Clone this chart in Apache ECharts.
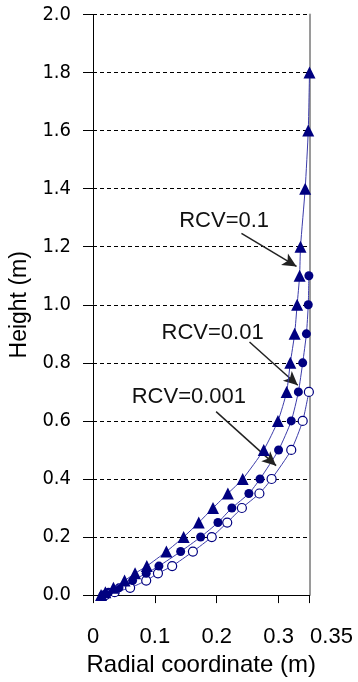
<!DOCTYPE html>
<html>
<head>
<meta charset="utf-8">
<script src="https://cdn.jsdelivr.net/npm/echarts@6/dist/echarts.min.js"></script>
<style>html,body{margin:0;padding:0;background:#fff}#c{width:358px;height:682px}</style>
</head>
<body>
<div id="c"></div>
<script>
// ---- data (radial coordinate r [m], height h [m]) ----
const hTri = [0, 0.01, 0.025, 0.05, 0.075, 0.1, 0.15, 0.2, 0.25, 0.3, 0.35, 0.4, 0.5, 0.6, 0.7, 0.8, 0.9, 1.0, 1.1, 1.2, 1.4, 1.6, 1.8];
const rTri = [0.013, 0.02, 0.033, 0.051, 0.068, 0.087, 0.1186, 0.1465, 0.171, 0.194, 0.218, 0.242, 0.276, 0.299, 0.313, 0.319, 0.326, 0.330, 0.334, 0.3355, 0.343, 0.348, 0.350];

const hFilled = [0, 0.01, 0.025, 0.05, 0.075, 0.1, 0.15, 0.2, 0.25, 0.3, 0.35, 0.4, 0.5, 0.6, 0.7, 0.8, 0.9, 1.0, 1.1];
const rFilled = [0.016, 0.025, 0.042, 0.064, 0.086, 0.1066, 0.1417, 0.174, 0.202, 0.2245, 0.252, 0.270, 0.300, 0.3205, 0.332, 0.339, 0.345, 0.348, 0.349];

const hOpen = [0, 0.01, 0.025, 0.05, 0.075, 0.1, 0.15, 0.2, 0.25, 0.3, 0.35, 0.4, 0.5, 0.6, 0.7];
const rOpen = [0.02, 0.035, 0.060, 0.086, 0.105, 0.128, 0.1615, 0.192, 0.217, 0.2407, 0.269, 0.2887, 0.3205, 0.339, 0.349];

const seriesNames = ['RCV=0.001', 'RCV=0.01', 'RCV=0.1'];
const annotTexts = ['RCV=0.1', 'RCV=0.01', 'RCV=0.001'];
const annotTextPos = [[0.212, 1.29], [0.1934, 0.904], [0.155, 0.682]];
const arrowFrom = [[0.240, 1.246], [0.253, 0.872], [0.199, 0.632]];
const arrowTo = [[0.329, 1.132], [0.331, 0.723], [0.296, 0.446]];

const xMin = 0, xMax = 0.35, xStep = 0.1;
const yMin = 0, yMax = 2.0, yStep = 0.2;

// ---- build ----
const pairs = (rs, hs) => rs.map((r, i) => [r, hs[i]]);
const NAVY = '#000080';
const LINE = '#3c3caa';
const SANS = '"Liberation Sans", Arial, sans-serif';

const chart = echarts.init(document.getElementById('c'), null, {renderer: 'canvas'});

const option = {
  animation: false,
  backgroundColor: '#fff',
  grid: {left: 93, right: 48.5, top: 14.5, bottom: 85.5, containLabel: false},
  xAxis: {
    type: 'value', min: xMin, max: xMax, interval: xStep,
    name: 'Radial coordinate (m)', nameLocation: 'middle', nameGap: 52,
    nameTextStyle: {fontSize: 24, fontFamily: SANS, color: '#000'},
    axisLine: {show: true, onZero: false, lineStyle: {color: '#000', width: 1}},
    axisTick: {show: true, length: 8, lineStyle: {color: '#000'}},
    axisLabel: {
      show: true, margin: 31, fontSize: 22, fontFamily: SANS, color: '#000',
      showMaxLabel: true, showMinLabel: true,
      formatter: v => Math.abs(v - xMax) < 1e-9 ? '{r|' + xMax + '}' : String(Number(v.toFixed(2))),
      rich: {r: {fontSize: 22, fontFamily: SANS, color: '#000', padding: [0, 0, 0, 44]}}
    },
    splitLine: {show: false}
  },
  yAxis: [{
    type: 'value', min: yMin, max: yMax, interval: yStep,
    name: 'Height (m)', nameLocation: 'middle', nameGap: 53,
    nameTextStyle: {fontSize: 23, fontFamily: SANS, color: '#000'},
    axisLine: {show: true, onZero: false, lineStyle: {color: '#000', width: 1}},
    axisTick: {show: true, length: 10, lineStyle: {color: '#000'}},
    axisLabel: {show: true, margin: 22, fontSize: 20, fontFamily: '"DejaVu Sans Condensed", "DejaVu Sans", sans-serif', color: '#000',
      formatter: v => v.toFixed(1)},
    splitLine: {show: true, lineStyle: {color: '#000', width: 1, type: [4, 3]}}
  }, {
    type: 'value', min: yMin, max: yMax, position: 'right',
    axisLine: {show: true, onZero: false, lineStyle: {color: '#9a9a9a', width: 2}},
    axisTick: {show: false}, axisLabel: {show: false}, splitLine: {show: false}
  }],
  series: [
    {
      name: seriesNames[0], type: 'line', smooth: 0.2,
      data: pairs(rOpen, hOpen),
      symbol: 'circle', symbolSize: 9,
      itemStyle: {color: '#fff', borderColor: NAVY, borderWidth: 1.2},
      lineStyle: {color: LINE, width: 1}, z: 3
    },
    {
      name: seriesNames[1], type: 'line', smooth: 0.2,
      data: pairs(rFilled, hFilled),
      symbol: 'circle', symbolSize: 9,
      itemStyle: {color: NAVY, borderColor: NAVY, borderWidth: 0},
      lineStyle: {color: LINE, width: 1}, z: 4,
      markPoint: {
        silent: true, symbol: 'circle', symbolSize: 0,
        label: {show: true, position: 'inside', formatter: '{b}', fontSize: 22, fontFamily: SANS, color: '#111'},
        data: annotTexts.map((t, i) => ({name: t, coord: annotTextPos[i]}))
      }
    },
    {
      name: seriesNames[2], type: 'line', smooth: 0.2,
      data: pairs(rTri, hTri),
      symbol: 'triangle', symbolSize: 12,
      itemStyle: {color: NAVY, borderColor: NAVY, borderWidth: 0},
      lineStyle: {color: LINE, width: 1}, z: 5,
      markLine: {
        silent: true, symbol: ['none', 'arrow'], symbolSize: [10, 14],
        lineStyle: {color: '#222', width: 1.5, type: 'solid'},
        label: {show: false},
        data: arrowFrom.map((f, i) => [{coord: f}, {coord: arrowTo[i]}])
      }
    }
  ]
};
chart.setOption(option);
</script>
</body>
</html>
